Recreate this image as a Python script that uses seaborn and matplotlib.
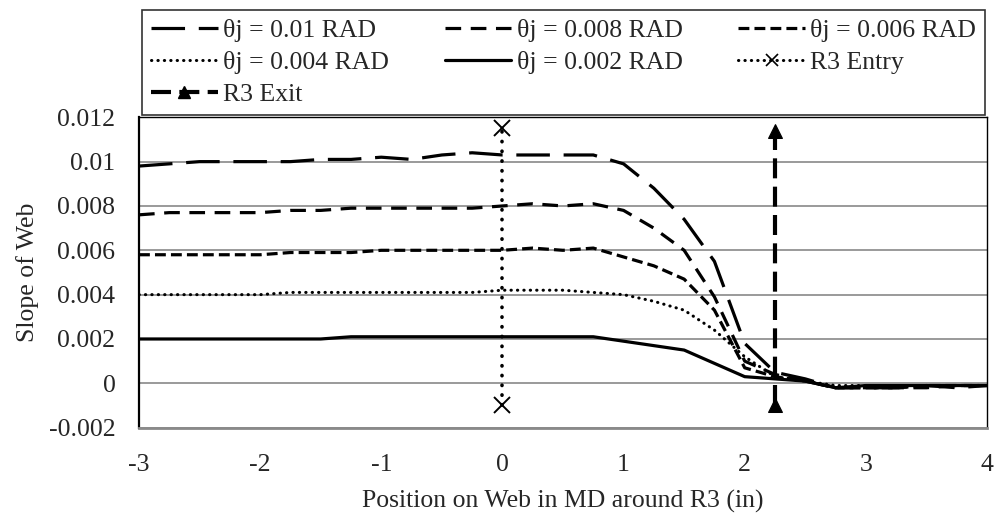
import matplotlib
matplotlib.use("Agg")
import matplotlib.pyplot as plt
import seaborn as sns
from matplotlib.lines import Line2D

# ---- data ----
pos = [-3, -2.75, -2.5, -2.25, -2, -1.75, -1.5, -1.25, -1, -0.75, -0.5, -0.25, 0,
       0.25, 0.5, 0.75, 1, 1.25, 1.5, 1.75, 2, 2.25, 2.5, 2.75, 3, 3.25, 3.5, 3.75, 4]

slope_010 = [0.0098, 0.0099, 0.0100, 0.0100, 0.0100, 0.0100, 0.0101, 0.0101, 0.0102, 0.0101,
             0.0103, 0.0104, 0.0103, 0.0103, 0.0103, 0.0103, 0.0099, 0.0088, 0.0074, 0.0055,
             0.0018, 0.0005, 0.0002, -0.0002, -0.0002, -0.0002, -0.0001, -0.0002, -0.0001]
slope_008 = [0.0076, 0.0077, 0.0077, 0.0077, 0.0077, 0.0078, 0.0078, 0.0079, 0.0079, 0.0079,
             0.0079, 0.0079, 0.0080, 0.0081, 0.0080, 0.0081, 0.0078, 0.0070, 0.0060, 0.0039,
             0.0010, 0.0004, 0.0001, -0.0002, -0.0002, -0.0002, -0.0002, -0.0001, -0.0001]
slope_006 = [0.0058, 0.0058, 0.0058, 0.0058, 0.0058, 0.0059, 0.0059, 0.0059, 0.0060, 0.0060,
             0.0060, 0.0060, 0.0060, 0.0061, 0.0060, 0.0061, 0.0057, 0.0053, 0.0047, 0.0033,
             0.0007, 0.0003, 0.0001, -0.0002, -0.0002, -0.0002, -0.0001, -0.0001, -0.0001]
slope_004 = [0.0040, 0.0040, 0.0040, 0.0040, 0.0040, 0.0041, 0.0041, 0.0041, 0.0041, 0.0041,
             0.0041, 0.0041, 0.0042, 0.0042, 0.0042, 0.0041, 0.0040, 0.0037, 0.0033, 0.0024,
             0.0012, 0.0003, 0.0001, -0.0001, -0.0001, -0.0001, -0.0001, -0.0001, -0.0001]
slope_002 = [0.0020, 0.0020, 0.0020, 0.0020, 0.0020, 0.0020, 0.0020, 0.0021, 0.0021, 0.0021,
             0.0021, 0.0021, 0.0021, 0.0021, 0.0021, 0.0021, 0.0019, 0.0017, 0.0015, 0.0009,
             0.0003, 0.0002, 0.0001, -0.0002, -0.0001, -0.0001, -0.0001, -0.0001, -0.0001]

labels = ["θj = 0.01 RAD", "θj = 0.008 RAD", "θj = 0.006 RAD",
          "θj = 0.004 RAD", "θj = 0.002 RAD"]

entry_x = [0, 0]
entry_y = [-0.001, 0.0115]
exit_x = [2.25, 2.25]
exit_y = [-0.001, 0.0114]

xticks = [-3, -2, -1, 0, 1, 2, 3, 4]
yticks = [-0.002, 0, 0.002, 0.004, 0.006, 0.008, 0.01, 0.012]
ytick_labels = ["-0.002", "0", "0.002", "0.004", "0.006", "0.008", "0.01", "0.012"]

# ---- style ----
sns.set_style("white")
plt.rcParams['font.family'] = ['Liberation Serif', 'DejaVu Serif']
FS = 18.5

fig = plt.figure(figsize=(10, 5.19), dpi=100)
ax = fig.add_axes([0.139, 0.176, 0.848, 0.598])

styles = [
    dict(lw=2.3, dashes=(10.5, 4.3)),
    dict(lw=2.3, dashes=(4.9, 3.0)),
    dict(lw=2.3, dashes=(3.4, 1.6)),
    dict(lw=2.2, dashes=(0.1, 2.0)),
    dict(lw=2.3, dashes=""),
]
series = [slope_010, slope_008, slope_006, slope_004, slope_002]

handles = []
for ys, lab, st in zip(series, labels, styles):
    sns.lineplot(x=pos, y=ys, ax=ax, color="black", linewidth=st["lw"],
                 estimator=None, sort=False, legend=False)
    ln = ax.lines[-1]
    dotted = bool(st["dashes"]) and st["dashes"][0] < 1
    if st["dashes"]:
        ln.set_dashes(st["dashes"])
        ln.set_dash_capstyle("round" if dotted else "butt")
    handles.append(Line2D([], [], color="black", lw=st["lw"],
                          linestyle=(0, st["dashes"]) if st["dashes"] else "-",
                          dash_capstyle="round" if dotted else "butt",
                          label=lab))

# R3 entry / exit marker lines
sns.lineplot(x=entry_x, y=entry_y, ax=ax, color="black", linewidth=2.6,
             marker="x", markersize=11, markeredgewidth=1.4,
             markeredgecolor="black", estimator=None, sort=False, legend=False)
ax.lines[-1].set_dashes((0.1, 2.6))
ax.lines[-1].set_dash_capstyle("round")
sns.lineplot(x=exit_x, y=exit_y, ax=ax, color="black", linewidth=3.0,
             marker="^", markersize=10, markeredgecolor="black",
             estimator=None, sort=False, legend=False)
ax.lines[-1].set_dashes((4.8, 2.0))

handles.append(Line2D([], [], color="black", lw=2.2, linestyle=(0, (0.1, 2.0)),
                      dash_capstyle="round", marker="x", markersize=8,
                      markeredgewidth=1.2, label="R3 Entry"))
handles.append(Line2D([], [], color="black", lw=3.0, linestyle=(0, (4.8, 2.0)),
                      marker="^", markersize=8, label="R3 Exit"))

# axes
ax.set_xlim(-3, 4)
ax.set_ylim(-0.002, 0.012)
ax.set_xticks(xticks)
ax.set_xticklabels([str(t) for t in xticks], fontsize=FS)
ax.set_yticks(yticks)
ax.set_yticklabels(ytick_labels, fontsize=FS)
ax.yaxis.grid(True, color="#9a9a9a", linewidth=1.4)
ax.set_axisbelow(True)
ax.tick_params(axis="x", direction="out", length=5, color="#8a8a8a", width=1.4, pad=14)
ax.tick_params(axis="y", length=0, pad=17)
for side in ["left", "top", "right"]:
    ax.spines[side].set_color("black")
ax.spines["left"].set_linewidth(1.6)
ax.spines["bottom"].set_color("#8a8a8a")
ax.spines["bottom"].set_linewidth(2.0)
ax.spines["top"].set_linewidth(1.0)
ax.spines["right"].set_linewidth(1.0)

ax.set_xlabel("Position on Web in MD around R3 (in)", fontsize=FS, labelpad=10)
ax.set_ylabel("Slope of Web", fontsize=FS, labelpad=7)

# legend fills column by column, so reorder to get the row-wise layout
order = [0, 3, 6, 1, 4, 2, 5]
leg = fig.legend(handles=[handles[i] for i in order], loc="lower left", ncol=3,
                 mode="expand", bbox_to_anchor=(0.142, 0.779, 0.843, 0.214),
                 fontsize=FS, frameon=True, fancybox=False, edgecolor="black",
                 handlelength=2.6, handletextpad=0.2, borderaxespad=0,
                 labelspacing=0.35, borderpad=0.35, columnspacing=1.0)
leg.get_frame().set_linewidth(1.2)

fig.savefig("out.png", dpi=100)
